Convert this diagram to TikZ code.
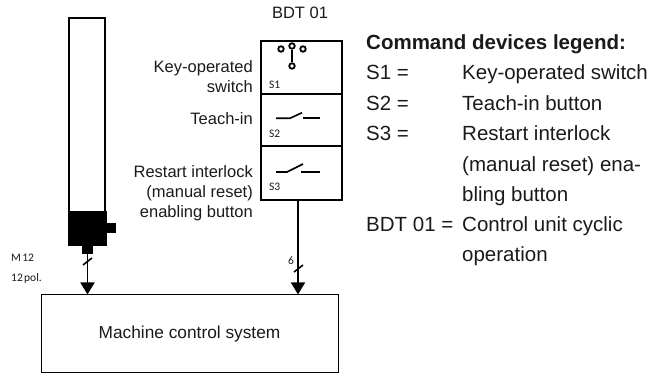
\documentclass[tikz,border=0pt]{standalone}
\usepackage{fontspec}
\setmainfont{Liberation Sans}
\newfontfamily\narrowfont[WordSpace=0.5]{Carlito}
\usetikzlibrary{calc, positioning, arrows.meta}
\definecolor{inktext}{HTML}{1A1A1A}
\begin{document}
\begin{tikzpicture}[
    x=1pt, y=-1pt,
    devlabel/.style={font=\fontsize{16.5}{20}\selectfont, text=inktext, align=right, anchor=east, inner sep=0pt},
    small/.style={font=\narrowfont\fontsize{11.5}{14}\selectfont, text=inktext, inner sep=0pt},
    legendline/.style={font=\fontsize{20.5}{24}\selectfont, text=inktext, anchor=base west, inner sep=0pt},
    thickbox/.style={draw=black, line width=2pt, rectangle, minimum width=81pt, inner sep=0pt},
    arrow/.style={-{Triangle[length=12pt,width=14pt]}, line width=1.6pt},
    wire/.style={line width=1.6pt},
    pin/.style={draw, circle, line width=1.8pt, minimum size=5.5pt, inner sep=0pt}
]
\useasboundingbox (0,0) rectangle (654,387);
% light curtain
\node[draw, line width=2pt, minimum width=36pt, minimum height=194pt, inner sep=0pt] (tower) at (87,115) {};
\node[fill=black, minimum width=39pt, minimum height=35pt, inner sep=0pt] (head) at (87.5,228.5) {};
\node[fill=black, minimum width=9pt, minimum height=10pt, inner sep=0pt, right=-0.5pt of head] (side) {};
\node[fill=black, minimum width=11pt, minimum height=8pt, inner sep=0pt, below=-0.5pt of head] (plug) {};
\node[small, anchor=west] (m12) at (11,258) {M 12};
\node[small, anchor=west] (pol) at (11,278) {12 pol.};
% control unit
\node[font=\fontsize{16.5}{20}\selectfont, text=inktext, inner sep=0pt] (bdt) at (300,13) {BDT 01};
\node[thickbox, minimum height=53pt] (s1) at (301.5,67.5) {};
\node[thickbox, minimum height=52pt] (s2) at (301.5,120) {};
\node[thickbox, minimum height=54pt] (s3) at (301.5,173) {};
\node[small, anchor=west] (s1t) at (269,85) {S1};
\node[small, anchor=west] (s2t) at (269,134) {S2};
\node[small, anchor=west] (s3t) at (269,187) {S3};
\node[devlabel] (keyt) at (253,77) {Key-operated\\switch};
\node[devlabel] (teacht) at (253,119) {Teach-in};
\node[devlabel] (restartt) at (253,193) {Restart interlock\\(manual reset)\\enabling button};
% switches
\node[pin] (p1) at (281,49) {};
\node[pin] (p2) at (292,46) {};
\node[pin] (p3) at (303,49) {};
\node[pin] (p4) at (292,66) {};
\draw[wire] (p2) -- (p4);
\draw[wire] (276,118.3) -- (290,118.3) -- (302,112.7);
\draw[wire] (303,118.3) -- (320,118.3);
\draw[wire] (276,172) -- (287,172) -- (303,164);
\draw[wire] (301,172) -- (320,172);
% machine control
\node[draw, line width=1pt, minimum width=297pt, minimum height=78pt, inner sep=0pt, font=\fontsize{17.3}{20}\selectfont, text=inktext] (machine) at (189.5,334) {Machine control system};
\coordinate (s3out) at (298,200);
\draw[arrow] (plug.south) -- (plug.south |- machine.north);
\draw[arrow] (s3out) -- (s3out |- machine.north);
\draw[wire] (83,265) -- (92,258);
\draw[wire] (294,272) -- (303,265);
\node[small] (six) at (291,261) {6};
% legend
\node[legendline, font=\bfseries\fontsize{20.5}{24}\selectfont] (title) at (366,50) {Command devices legend:};
\node[legendline] (a1) at (366,80) {S1 =};
\node[legendline] (b1) at (462,80) {Key-operated switch};
\node[legendline] (a2) at (366,111) {S2 =};
\node[legendline] (b2) at (462,111) {Teach-in button};
\node[legendline] (a3) at (366,141) {S3 =};
\node[legendline] (b3) at (462,141) {Restart interlock};
\node[legendline] (b4) at (462,172) {(manual reset) ena-};
\node[legendline] (b5) at (462,202) {bling button};
\node[legendline] (a6) at (366,232) {BDT 01 =};
\node[legendline] (b6) at (462,232) {Control unit cyclic};
\node[legendline] (b7) at (462,262) {operation};
\end{tikzpicture}
\end{document}
